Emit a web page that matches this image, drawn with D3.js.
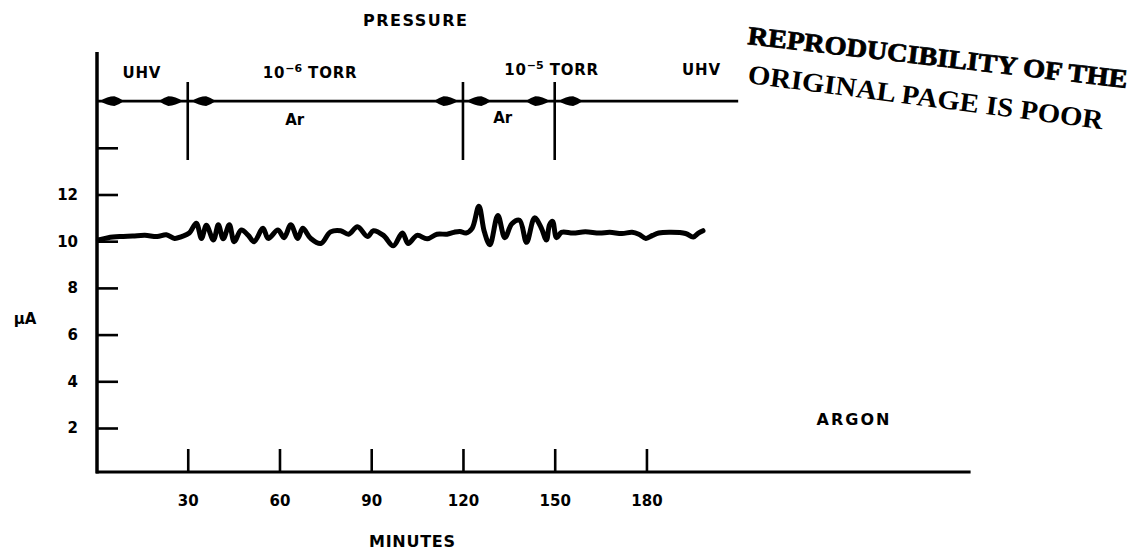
<!DOCTYPE html>
<html>
<head>
<meta charset="utf-8">
<script src="https://cdn.jsdelivr.net/npm/d3@7"></script>
<style>
  html, body { margin: 0; padding: 0; background: #fff; }
  svg { display: block; }
  text { font-family: "DejaVu Sans", "Liberation Sans", Arial, sans-serif; font-weight: bold; fill: #000; }
</style>
</head>
<body>
<svg id="chart" width="1136" height="555"></svg>
<script>
// Ion current under argon exposure, recorded against elapsed time
const minutes = [0.8, 4, 8, 12, 16, 20, 23, 25.7, 28, 30.5, 32.8, 34.5, 36.1, 38.4, 40, 41.6, 43.6, 45.2,
  47.5, 49.8, 51.7, 54.6, 56.3, 59.5, 61.5, 63.7, 66, 67.6, 70.2, 73.5, 76.7, 80, 82.6, 85.5, 88.8, 90.7,
  94, 97.2, 100.2, 102.1, 105, 108.3, 111.5, 114.8, 117, 119, 121, 123, 125.2, 127, 128.8, 131.4, 133.7,
  136, 138.5, 140.8, 143.4, 145.5, 147.3, 148.3, 149.3, 150.6, 152.2, 156, 160, 164.6, 168, 172, 175.3,
  177.5, 179.8, 182, 184, 188, 192.8, 195.3, 197, 198.5];
const microamps = [10.05, 10.15, 10.2, 10.22, 10.25, 10.2, 10.28, 10.12, 10.2, 10.35, 10.77, 10.12, 10.68, 10.05,
  10.7, 10.1, 10.7, 9.98, 10.48, 10.25, 9.98, 10.55, 10.12, 10.48, 10.15, 10.7, 10.12, 10.55, 10.12, 9.9,
  10.4, 10.45, 10.3, 10.62, 10.2, 10.45, 10.25, 9.8, 10.35, 9.9, 10.25, 10.1, 10.3, 10.3, 10.38, 10.42,
  10.35, 10.55, 11.5, 10.4, 9.85, 11.1, 10.15, 10.75, 10.9, 9.95, 11.0, 10.6, 10.05, 10.7, 10.85, 10.15,
  10.38, 10.35, 10.4, 10.35, 10.38, 10.33, 10.38, 10.3, 10.12, 10.25, 10.35, 10.38, 10.33, 10.18, 10.35, 10.45];

const xTicks = [30, 60, 90, 120, 150, 180];
const yTicks = [2, 4, 6, 8, 10, 12, 14];
const yTickLabels = ["2", "4", "6", "8", "10", "12", ""];

// Pressure phases along the top band (minutes)
const phaseBounds = [0, 30, 120, 150, 210];
const phasePressure = ["UHV", "10|-6| TORR", "10|-5| TORR", "UHV"];
const phasePressureAt = [15, 70, 149, 198];
const phaseGas = ["", "Ar", "Ar", ""];
const phaseGasAt = [0, 65, 133, 0];

const svg = d3.select("#chart");

const x = d3.scaleLinear().domain([0, 286]).range([96, 970.6]);
const y = d3.scaleLinear().domain([0, 16]).range([474.7, 101.1]);
const axisY = 472;

// Axes lines
svg.append("line").attr("x1", x(0) + 1).attr("x2", x(0) + 1).attr("y1", 52).attr("y2", axisY + 1.5)
  .attr("stroke", "#000").attr("stroke-width", 3.5);
svg.append("line").attr("x1", x(0)).attr("x2", x.range()[1]).attr("y1", axisY).attr("y2", axisY)
  .attr("stroke", "#000").attr("stroke-width", 3);

const tickFont = sel => sel.style("font-size", "15px")
  .style("font-family", "'DejaVu Sans', 'Liberation Sans', Arial, sans-serif")
  .style("font-weight", "bold").attr("fill", "#000");

// Left axis: ticks point inward, labels to the left
const yAxis = svg.append("g").attr("transform", `translate(${x(0) + 1},0)`)
  .call(d3.axisLeft(y).tickValues(yTicks).tickSize(-21).tickPadding(19)
    .tickFormat((d, i) => yTickLabels[i]));
yAxis.select(".domain").remove();
yAxis.selectAll(".tick line").attr("stroke", "#000").attr("stroke-width", 2.6);
yAxis.selectAll(".tick text").call(tickFont);

// Bottom axis: ticks point upward
const xAxis = svg.append("g").attr("transform", `translate(0,${axisY})`)
  .call(d3.axisBottom(x).tickValues(xTicks).tickSize(-23).tickPadding(23).tickFormat(d3.format("d")));
xAxis.select(".domain").remove();
xAxis.selectAll(".tick line").attr("stroke", "#000").attr("stroke-width", 2.6);
xAxis.selectAll(".tick text").call(tickFont);

// Axis titles
svg.append("text").attr("x", 412).attr("y", 547).attr("text-anchor", "middle")
  .attr("textLength", 86).attr("lengthAdjust", "spacing").style("font-size", "16px").text("MINUTES");
svg.append("text").attr("x", 25).attr("y", 324).attr("text-anchor", "middle")
  .style("font-size", "15px").text("\u03BCA");
svg.append("text").attr("x", 415).attr("y", 26).attr("text-anchor", "middle")
  .attr("textLength", 104).attr("lengthAdjust", "spacing").style("font-size", "16px").text("PRESSURE");
svg.append("text").attr("x", 853).attr("y", 425).attr("text-anchor", "middle")
  .attr("textLength", 73).attr("lengthAdjust", "spacing").style("font-size", "16px").text("ARGON");

// Pressure band: arrow line, dividers and arrowheads
const bandY = y(16);
svg.append("line").attr("x1", x(0)).attr("x2", x(phaseBounds[phaseBounds.length - 1]))
  .attr("y1", bandY).attr("y2", bandY).attr("stroke", "#000").attr("stroke-width", 2.8);

svg.selectAll("line.divider").data(phaseBounds.slice(1, -1)).join("line").attr("class", "divider")
  .attr("x1", d => x(d)).attr("x2", d => x(d)).attr("y1", 82).attr("y2", 160)
  .attr("stroke", "#000").attr("stroke-width", 2.6);

function arrowHead(tipX, dir) {
  const len = 24, h = 4.8;
  const p = d3.path();
  p.moveTo(tipX, bandY);
  p.quadraticCurveTo(tipX + dir * len * 0.3, bandY - h, tipX + dir * len * 0.6, bandY - h);
  p.quadraticCurveTo(tipX + dir * len * 0.85, bandY - h * 0.6, tipX + dir * len, bandY);
  p.quadraticCurveTo(tipX + dir * len * 0.85, bandY + h * 0.6, tipX + dir * len * 0.6, bandY + h);
  p.quadraticCurveTo(tipX + dir * len * 0.3, bandY + h, tipX, bandY);
  p.closePath();
  return p.toString();
}
const heads = [];
for (let i = 0; i < phaseBounds.length - 1; i++) {
  heads.push({ tip: x(phaseBounds[i]) + 4, dir: 1 });
  if (i < phaseBounds.length - 2) heads.push({ tip: x(phaseBounds[i + 1]) - 5, dir: -1 });
}
svg.selectAll("path.head").data(heads).join("path").attr("class", "head")
  .attr("d", d => arrowHead(d.tip, d.dir)).attr("fill", "#000");

// Pressure labels with superscript exponents
phasePressure.forEach((label, i) => {
  const parts = label.split("|");
  const t = svg.append("text").attr("x", x(phasePressureAt[i])).attr("y", i < 2 ? 78 : 75)
    .attr("text-anchor", "middle").style("font-size", "15px").style("letter-spacing", "0.8px");
  t.append("tspan").text(parts[0]);
  if (parts.length > 1) {
    t.append("tspan").attr("dy", -6).style("font-size", "11px").style("letter-spacing", "0px")
      .text(parts[1].replace("-", "\u2212"));
    t.append("tspan").attr("dy", 6).text(parts[2]);
  }
});
phaseGas.forEach((g, i) => {
  if (!g) return;
  svg.append("text").attr("x", x(phaseGasAt[i])).attr("y", i === 1 ? 125 : 123)
    .attr("text-anchor", "middle").style("font-size", "15px").text(g);
});

// Current trace
const line = d3.line().x(d => x(d[0])).y(d => y(d[1])).curve(d3.curveCatmullRom.alpha(0.5));
svg.append("path").datum(minutes.map((m, i) => [m, microamps[i]]))
  .attr("d", line).attr("fill", "none").attr("stroke", "#000")
  .attr("stroke-width", 5).attr("stroke-linejoin", "round").attr("stroke-linecap", "round");

// Reproduction stamp
svg.append("text").attr("transform", "translate(747,44) rotate(6.6)")
  .attr("textLength", 382).attr("lengthAdjust", "spacingAndGlyphs")
  .style("font-family", "'Liberation Serif', 'Times New Roman', serif").style("font-weight", "bold")
  .style("font-size", "26px").style("stroke", "#000").style("stroke-width", "0.8px")
  .text("REPRODUCIBILITY OF THE");
svg.append("text").attr("transform", "translate(747,83) rotate(7.4)")
  .attr("textLength", 358).attr("lengthAdjust", "spacingAndGlyphs")
  .style("font-family", "'Liberation Serif', 'Times New Roman', serif").style("font-weight", "bold")
  .style("font-size", "27px")
  .text("ORIGINAL PAGE IS POOR");
</script>
</body>
</html>
